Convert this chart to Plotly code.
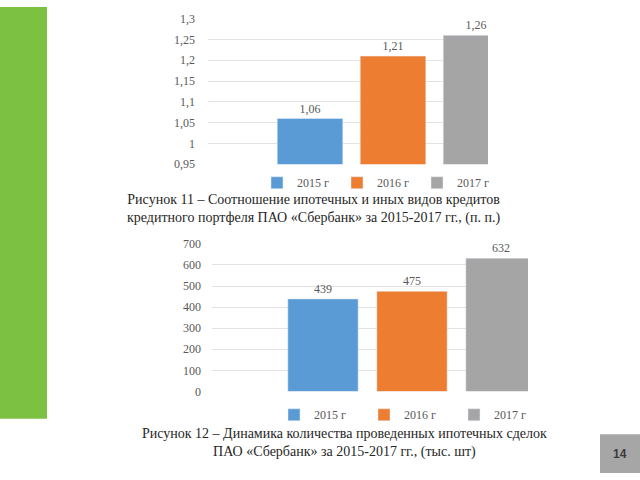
import plotly.graph_objects as go

years = ["2015 г", "2016 г", "2017 г"]
ratio_values = [1.06, 1.21, 1.26]
deal_values = [439, 475, 632]
colors = ["#5b9bd5", "#ed7d31", "#a5a5a5"]
cat_top = ["Соотношение"]
cat_bottom = ["Сделки"]

caption_top = ("Рисунок 11 – Соотношение ипотечных и иных видов кредитов<br>"
               "кредитного портфеля ПАО «Сбербанк» за 2015-2017 гг., (п. п.)")
caption_bottom = ("Рисунок 12 – Динамика количества проведенных ипотечных сделок<br>"
                  "ПАО «Сбербанк» за 2015-2017 гг., (тыс. шт)")
page_number = "14"

SERIF = "Liberation Serif"
W, H = 640, 480


def fmt(v):
    return str(v).replace(".", ",")


fig = go.Figure()
for i, yr in enumerate(years):
    fig.add_trace(go.Bar(
        x=cat_top, y=[ratio_values[i]], name=yr, marker_color=colors[i],
        text=[fmt(ratio_values[i])], textposition="outside", cliponaxis=False,
        constraintext="none",
        textfont=dict(family=SERIF, size=12, color="#595959"),
        xaxis="x", yaxis="y", legend="legend",
    ))
for i, yr in enumerate(years):
    fig.add_trace(go.Bar(
        x=cat_bottom, y=[deal_values[i]], name=yr, marker_color=colors[i],
        text=[fmt(deal_values[i])], textposition="outside", cliponaxis=False,
        constraintext="none",
        textfont=dict(family=SERIF, size=12, color="#595959"),
        xaxis="x2", yaxis="y2", legend="legend2",
    ))

grid = "#e3e3e3"
tickfont = dict(family=SERIF, size=12, color="#595959")

fig.update_layout(
    width=W, height=H,
    margin=dict(l=0, r=0, t=0, b=0),
    paper_bgcolor="white", plot_bgcolor="white",
    separators=", ",
    barmode="group", bargap=0.4, bargroupgap=0.21,
    xaxis=dict(domain=[208 / W, 488 / W], range=[-0.4458, 0.2289],
               showticklabels=False, showgrid=False, zeroline=False),
    yaxis=dict(domain=[(H - 162) / H, (H - 12) / H], range=[0.95, 1.3],
               tick0=0.95, dtick=0.05, showgrid=True, gridcolor=grid, gridwidth=1,
               zeroline=False, ticks="", ticklabelstandoff=12, tickfont=tickfont,
               anchor="x"),
    xaxis2=dict(domain=[212 / W, 528 / W], range=[-0.4494, 0.2607],
                showticklabels=False, showgrid=False, zeroline=False, anchor="y2"),
    yaxis2=dict(domain=[(H - 396) / H, (H - 244) / H], range=[0, 700],
                dtick=100, showgrid=True, gridcolor=grid, gridwidth=1,
                zeroline=False, ticks="", ticklabelstandoff=10, tickfont=tickfont,
                anchor="x2"),
    legend=dict(orientation="h", x=257 / W, y=(H - 181) / H, xanchor="left",
                yanchor="middle", entrywidth=35, bgcolor="rgba(0,0,0,0)",
                font=dict(family=SERIF, size=12, color="#595959")),
    legend2=dict(orientation="h", x=274 / W, y=(H - 420) / H, xanchor="left",
                 yanchor="middle", entrywidth=45, bgcolor="rgba(0,0,0,0)",
                 font=dict(family=SERIF, size=12, color="#595959")),
    shapes=[
        dict(type="rect", xref="paper", yref="paper", x0=0, x1=47 / W,
             y0=(H - 424) / H, y1=1, fillcolor="#7dc142", line=dict(width=0),
             layer="below"),
        dict(type="rect", xref="paper", yref="paper", x0=600 / W, x1=1,
             y0=0, y1=40 / H, fillcolor="#a6a6a6", line=dict(width=0),
             layer="below"),
    ],
    annotations=[
        dict(text=caption_top, xref="paper", yref="paper", x=313 / W,
             y=(H - 208) / H, xanchor="center", yanchor="middle", showarrow=False,
             align="center", font=dict(family=SERIF, size=14, color="#262626")),
        dict(text=caption_bottom, xref="paper", yref="paper", x=344 / W,
             y=(H - 449) / H, xanchor="center", yanchor="middle", showarrow=False,
             align="center", font=dict(family=SERIF, size=14, color="#262626")),
        dict(text="<b>" + page_number + "</b>", xref="paper", yref="paper",
             x=620 / W, y=20 / H, xanchor="center", yanchor="middle",
             showarrow=False, font=dict(family="Liberation Sans", size=12,
                                        color="#3a3a3a")),
    ],
)

post = ("document.body.style.margin='0';document.body.style.padding='0';"
        "document.body.style.overflow='hidden';"
        "var gd=document.getElementById('{plot_id}');"
        "gd.style.position='fixed';gd.style.left='0px';gd.style.top='0px';")
fig.write_html("out.html", post_script=post,
               config={"displayModeBar": False, "staticPlot": True})
